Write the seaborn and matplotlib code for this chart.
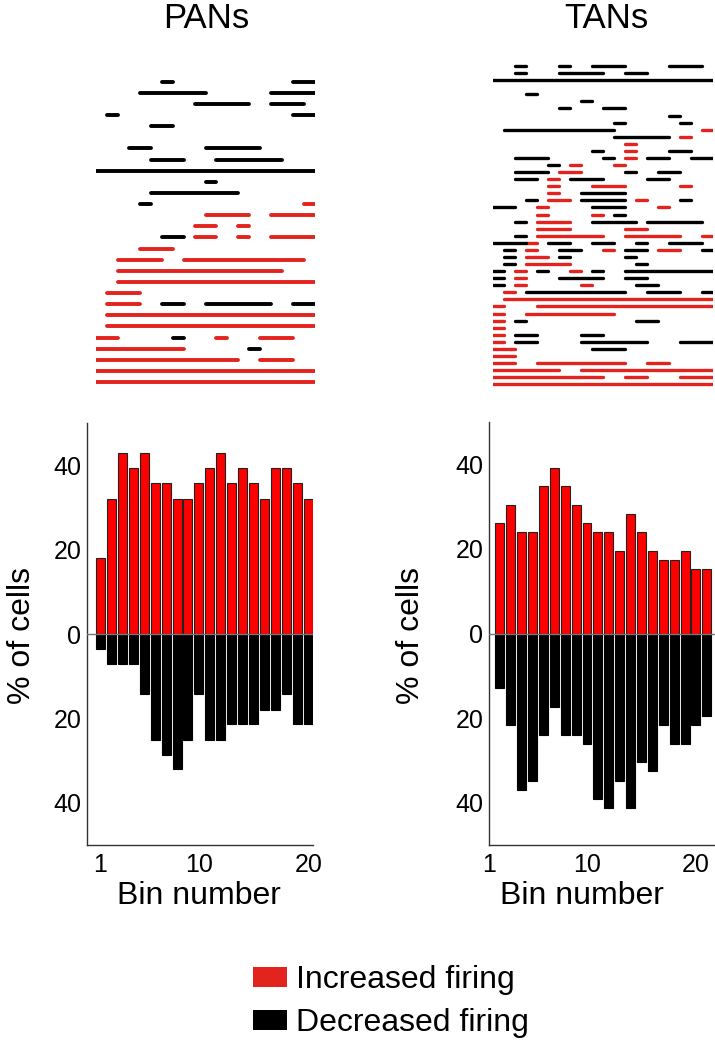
import numpy as np
import pandas as pd
import seaborn as sns
import matplotlib.pyplot as plt
from matplotlib.patches import Patch

# Histogram values (% of cells) per bin
bins = np.arange(1, 21)
pans_increased = [17.9, 32.1, 42.9, 39.3, 42.9, 35.7, 35.7, 32.1, 32.1, 35.7,
                  39.3, 42.9, 35.7, 39.3, 35.7, 32.1, 39.3, 39.3, 35.7, 32.1]
pans_decreased = [3.6, 7.1, 7.1, 7.1, 14.3, 25.0, 28.6, 32.1, 25.0, 14.3,
                  25.0, 25.0, 21.4, 21.4, 21.4, 17.9, 17.9, 14.3, 21.4, 21.4]
tans_increased = [26.1, 30.4, 23.9, 23.9, 34.8, 39.1, 34.8, 30.4, 26.1, 23.9,
                  23.9, 19.6, 28.3, 23.9, 19.6, 17.4, 17.4, 19.6, 15.2, 15.2]
tans_decreased = [13.0, 21.7, 37.0, 34.8, 23.9, 17.4, 23.9, 23.9, 26.1, 39.1,
                  41.3, 34.8, 41.3, 30.4, 32.6, 21.7, 26.1, 26.1, 21.7, 19.6]

# Significant-bin segments per cell: (row, first bin, last bin)
pans_inc_segs = [(12, 20, 20), (13, 11, 14), (13, 17, 20), (14, 10, 11), (14, 14, 14),
                 (15, 10, 11), (15, 14, 14), (15, 17, 20), (16, 5, 7), (17, 3, 6),
                 (17, 9, 19), (18, 3, 17), (19, 3, 20), (20, 2, 4), (21, 2, 4),
                 (22, 2, 20), (23, 2, 20), (24, 1, 2), (24, 12, 12), (24, 16, 18),
                 (25, 1, 8), (26, 1, 13), (26, 16, 18), (27, 1, 20), (28, 1, 20)]
pans_dec_segs = [(1, 7, 7), (1, 19, 20), (2, 5, 10), (2, 17, 20), (3, 10, 14), (3, 17, 19),
                 (4, 2, 2), (4, 19, 20), (5, 6, 7), (7, 4, 5), (7, 11, 15), (8, 6, 8),
                 (8, 12, 17), (9, 1, 20), (10, 11, 11), (11, 6, 13), (12, 5, 5),
                 (15, 7, 8), (21, 7, 8), (21, 11, 16), (21, 19, 20), (24, 8, 8), (25, 15, 15)]
tans_inc_segs = [(10, 20, 20), (11, 18, 18), (12, 13, 13), (13, 13, 13), (14, 13, 13),
                 (15, 8, 8), (15, 12, 12), (16, 7, 8), (17, 6, 6), (18, 6, 6), (18, 10, 12),
                 (18, 18, 18), (19, 6, 6), (20, 6, 7), (20, 14, 14), (21, 5, 5), (21, 16, 16),
                 (22, 5, 5), (22, 10, 10), (23, 5, 7), (24, 5, 7), (24, 13, 14), (25, 5, 10),
                 (25, 13, 17), (25, 20, 20), (26, 4, 4), (27, 4, 4), (27, 11, 11), (27, 16, 17),
                 (28, 4, 5), (29, 4, 7), (30, 3, 3), (30, 8, 8), (31, 3, 3), (32, 3, 3),
                 (32, 9, 9), (33, 2, 2), (34, 2, 20), (35, 1, 1), (35, 5, 20), (36, 1, 1),
                 (36, 4, 11), (37, 1, 1), (38, 1, 1), (39, 1, 1), (40, 1, 1), (41, 1, 2),
                 (42, 1, 2), (43, 1, 2), (43, 5, 12), (43, 15, 16), (44, 1, 6), (44, 9, 20),
                 (45, 1, 10), (45, 13, 14), (45, 18, 20), (46, 1, 20)]
tans_dec_segs = [(1, 3, 3), (1, 7, 7), (1, 10, 12), (1, 17, 19), (2, 3, 3), (2, 7, 10),
                 (2, 13, 14), (3, 1, 20), (5, 4, 4), (6, 9, 9), (7, 7, 7), (7, 11, 12),
                 (8, 17, 17), (9, 12, 12), (9, 18, 18), (10, 2, 11), (11, 12, 16),
                 (13, 10, 10), (13, 17, 18), (14, 3, 5), (14, 11, 11), (14, 15, 16),
                 (14, 19, 20), (15, 6, 6), (16, 3, 5), (16, 13, 13), (16, 16, 17),
                 (17, 3, 4), (17, 8, 10), (17, 15, 16), (19, 9, 12), (20, 4, 4), (20, 9, 12),
                 (20, 18, 18), (21, 1, 2), (21, 10, 12), (22, 12, 12), (23, 3, 3),
                 (23, 10, 13), (23, 15, 19), (25, 3, 3), (26, 1, 3), (26, 6, 7), (26, 10, 11),
                 (26, 14, 14), (26, 17, 19), (27, 2, 2), (27, 7, 8), (27, 13, 14), (27, 20, 20),
                 (28, 2, 2), (28, 7, 7), (28, 13, 13), (29, 2, 2), (29, 14, 14), (30, 1, 1),
                 (30, 5, 5), (30, 10, 10), (30, 13, 20), (31, 1, 1), (31, 7, 10), (31, 13, 14),
                 (32, 1, 1), (32, 14, 15), (33, 4, 12), (33, 15, 17), (33, 20, 20),
                 (37, 3, 3), (37, 14, 15), (39, 3, 4), (39, 9, 10), (40, 3, 4), (40, 9, 14),
                 (40, 18, 20), (41, 10, 12)]
n_pans, n_tans = 28, 46

RED_BAR = '#ff0000'
RED_LINE = '#e3231d'
FS_TITLE = 25
FS_BIG = 23
FS_TICK = 18

sns.set_style('white')
plt.rcParams['font.family'] = ['Liberation Sans', 'DejaVu Sans']
plt.rcParams['text.color'] = 'black'
plt.rcParams['axes.labelcolor'] = 'black'

W, H = 715, 1050
fig = plt.figure(figsize=(W / 100, H / 100), dpi=100)


def px_axes(left, top, right, bottom):
    return fig.add_axes([left / W, 1 - bottom / H, (right - left) / W, (bottom - top) / H])


def seg_frame(inc, dec):
    rows = []
    for kind, segs in (('inc', inc), ('dec', dec)):
        for i, (r, a, b) in enumerate(segs):
            rows.append({'seg': f'{kind}{i}', 'kind': kind, 'row': r, 'x': a - 0.5})
            rows.append({'seg': f'{kind}{i}', 'kind': kind, 'row': r, 'x': b + 0.5})
    return pd.DataFrame(rows)


def raster(ax, inc, dec, n, lw):
    df = seg_frame(inc, dec)
    sns.lineplot(data=df, x='x', y='row', hue='kind', units='seg', estimator=None,
                 hue_order=['inc', 'dec'], palette={'inc': RED_LINE, 'dec': 'black'},
                 sort=False, legend=False, linewidth=lw, solid_capstyle='round', ax=ax)
    ax.set_xlim(0.5, 20.5)
    ax.set_ylim(n + 0.5, 0.5)
    ax.set_axis_off()


def histo(ax, inc, dec, xlim, ticks):
    sns.barplot(x=bins, y=inc, native_scale=True, orient='x', color=RED_BAR,
                saturation=1, edgecolor='#222222', linewidth=0.8, width=0.82,
                errorbar=None, ax=ax)
    sns.barplot(x=bins, y=-np.array(dec), native_scale=True, orient='x', color='black',
                saturation=1, edgecolor='black', linewidth=0.8, width=0.82,
                errorbar=None, ax=ax)
    ax.axhline(0, color='#777777', lw=1.0, zorder=3)
    ax.set_xlim(*xlim)
    ax.set_ylim(-50, 50)
    ax.set_yticks([-40, -20, 0, 20, 40])
    ax.set_yticklabels(['40', '20', '0', '20', '40'])
    ax.set_xticks(ticks)
    ax.set_xticklabels(['1', '10', '20'])
    ax.set_xlabel('')
    ax.set_ylabel('')
    sns.despine(ax=ax)
    for s in ('left', 'bottom'):
        ax.spines[s].set_color('#333333')
        ax.spines[s].set_linewidth(1.0)
    ax.tick_params(direction='in', length=5, width=1, color='#333333',
                   labelsize=FS_TICK, labelcolor='black')
    ax.tick_params(axis='y', pad=4)
    ax.tick_params(axis='x', pad=6)


# top rasters
ax_pr = px_axes(96, 76.1, 315, 387.7)
raster(ax_pr, pans_inc_segs, pans_dec_segs, n_pans, 2.8)
ax_tr = px_axes(493.3, 62.5, 713.3, 387.8)
raster(ax_tr, tans_inc_segs, tans_dec_segs, n_tans, 2.4)

# histograms
ax_ph = px_axes(86.7, 423, 313, 845)
histo(ax_ph, pans_increased, pans_decreased, (-0.25, 20.42), [1, 10, 20])
ax_th = px_axes(489, 422, 715, 845)
# TAN axis labels sit one bin left of the bars in the original
histo(ax_th, tans_increased, tans_decreased, (0.06, 20.75), [0, 9, 19])

# titles and labels
fig.text(206 / W, 1 - 28 / H, 'PANs', ha='center', va='baseline', fontsize=FS_TITLE)
fig.text(606 / W, 1 - 28 / H, 'TANs', ha='center', va='baseline', fontsize=FS_TITLE)
for x in (22, 411):
    fig.text(x / W, 1 - 635 / H, '% of cells', rotation=90, ha='center', va='center',
             fontsize=FS_BIG)
for x in (199, 582):
    fig.text(x / W, 1 - 904 / H, 'Bin number', ha='center', va='baseline', fontsize=FS_BIG)

handles = [Patch(facecolor=RED_LINE, edgecolor='none'), Patch(facecolor='black', edgecolor='none')]
fig.legend(handles, ['Increased firing', 'Decreased firing'], loc='upper left',
           bbox_to_anchor=(253 / W, 1 - 965 / H), frameon=False, fontsize=FS_BIG,
           handlelength=1.05, handleheight=0.6, handletextpad=0.3, labelspacing=0.42,
           borderpad=0, borderaxespad=0)

fig.savefig('out.png', dpi=100)
